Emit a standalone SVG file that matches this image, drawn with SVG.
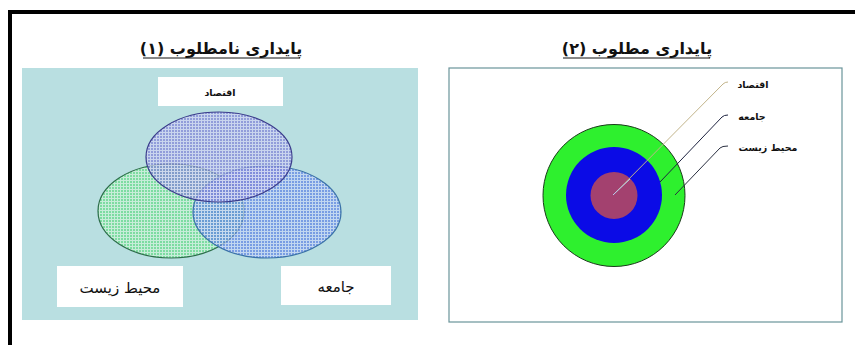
<svg xmlns="http://www.w3.org/2000/svg" width="855" height="345" viewBox="0 0 855 345">
<style>
.t{font-family:"DejaVu Sans",sans-serif;font-weight:bold;fill:#111;}
.title{font-size:16px;}
.box{fill:#fff;}
.lab{font-size:9.5px;}
.big{font-size:15px;font-weight:normal;}
</style>
<defs>
<pattern id="gPurple" width="3" height="3" patternUnits="userSpaceOnUse">
<rect width="3" height="3" fill="#8487d8"/>
<path d="M0 0.5H3M0.5 0V3" stroke="#cfd1f2" stroke-width="1"/>
</pattern>
<pattern id="gGreen" width="3" height="3" patternUnits="userSpaceOnUse">
<rect width="3" height="3" fill="#72dc96"/>
<path d="M0 0.5H3M0.5 0V3" stroke="#c9f0d8" stroke-width="1"/>
</pattern>
<pattern id="gBlue" width="3" height="3" patternUnits="userSpaceOnUse">
<rect width="3" height="3" fill="#6487e4"/>
<path d="M0 0.5H3M0.5 0V3" stroke="#c5d4f5" stroke-width="1"/>
</pattern>
</defs>
<rect width="855" height="345" fill="#fff"/>
<path d="M10 345V12H855" fill="none" stroke="#000" stroke-width="4"/>

<g id="panel1">
<text class="t title" x="221" y="54" text-anchor="middle" direction="rtl">پایداری نامطلوب (۱)</text>
<line x1="143" y1="58" x2="300" y2="58" stroke="#111" stroke-width="1"/>
<rect x="22" y="68" width="396" height="252" fill="#b9dfe1"/>
</g>
<g id="venn">
<ellipse id="env" cx="171" cy="211" rx="73" ry="47" fill="url(#gGreen)" fill-opacity="0.85" stroke="#2d6e4a" stroke-width="1.2"/>
<ellipse id="soc" cx="267" cy="212" rx="74" ry="46" fill="url(#gBlue)" fill-opacity="0.75" stroke="#3a72a8" stroke-width="1.2"/>
<ellipse id="eco" cx="219" cy="157" rx="73" ry="45" fill="url(#gPurple)" fill-opacity="0.75" stroke="#3b3d8c" stroke-width="1.2"/>
</g>
<g id="lblEco1"><rect class="box" x="158" y="77" width="125" height="29"/><text class="t lab" x="220" y="96" text-anchor="middle">اقتصاد</text></g>
<g id="lblEnv1"><rect class="box" x="57" y="266" width="126" height="41"/><text class="t big" x="120" y="293" text-anchor="middle">محیط زیست</text></g>
<g id="lblSoc1"><rect class="box" x="281" y="266" width="110" height="39"/><text class="t big" x="336" y="292" text-anchor="middle">جامعه</text></g>

<g id="panel2">
<text class="t title" x="637" y="54" text-anchor="middle" direction="rtl">پایداری مطلوب (۲)</text>
<line x1="563" y1="58" x2="710" y2="58" stroke="#111" stroke-width="1"/>
<rect x="449" y="68" width="393" height="254" fill="#fff" stroke="#6a949a" stroke-width="1.2"/>
</g>
<g id="rings">
<circle cx="614" cy="195.5" r="71" fill="#2ef02e" stroke="#1a3a1a" stroke-width="1"/>
<circle cx="614" cy="195" r="48" fill="#0b0be6"/>
<circle cx="614" cy="195.5" r="23.5" fill="#a3416f"/>
</g>
<g id="connectors" fill="none" stroke-width="1">
<path d="M613 195L723 84Q725 82 728 82" stroke="#c2b48a"/>
<path d="M630 179L613 195" stroke="#b8c8f0"/>
<path d="M660 182L722 117Q724 115 728 115" stroke="#1e2340"/>
<path d="M675 195L720 148Q722 146 728 146" stroke="#2a2f40"/>
</g>
<g id="lblEco2"><text class="t lab" x="753" y="88" text-anchor="middle">اقتصاد</text></g>
<g id="lblSoc2"><text class="t lab" x="752" y="120" text-anchor="middle">جامعه</text></g>
<g id="lblEnv2"><text class="t lab" x="768" y="151" text-anchor="middle">محیط زیست</text></g>
</svg>
